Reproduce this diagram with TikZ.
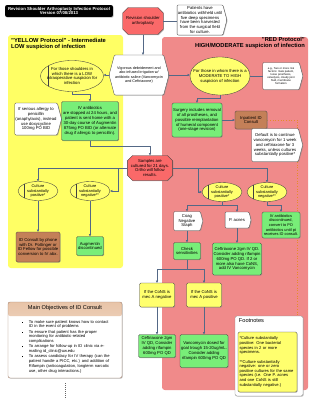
\documentclass[tikz,border=0pt]{standalone}
\usepackage{fontspec}
\setmainfont{Liberation Sans}
\usepackage{tikz}
\usetikzlibrary{shapes.geometric, shapes.misc, shapes.symbols, arrows.meta, positioning, backgrounds, shadows, calc}
\definecolor{zoneyellow}{RGB}{255,255,100}
\definecolor{zonered}{RGB}{240,138,138}
\definecolor{prepred}{RGB}{250,105,105}
\definecolor{actgreen}{RGB}{120,238,120}
\definecolor{condyellow}{RGB}{255,255,110}
\definecolor{consultbrown}{RGB}{196,128,88}
\definecolor{linkslate}{RGB}{84,104,134}
\definecolor{objpeach}{RGB}{232,196,168}
\definecolor{objedge}{RGB}{165,130,110}
\definecolor{dotorange}{RGB}{230,140,40}
\newenvironment{objlist}{%
  \begin{list}{\rule[0.6pt]{1.4pt}{1.4pt}}{%
    \setlength{\leftmargin}{0.5cm}\setlength{\labelwidth}{0.2cm}%
    \setlength{\labelsep}{0.3cm}\setlength{\itemsep}{0.6pt}%
    \setlength{\parsep}{0pt}\setlength{\topsep}{0pt}\setlength{\partopsep}{0pt}}}%
  {\end{list}}

\begin{document}
\begin{tikzpicture}[x=0.05cm, y=-0.05cm,
  font=\fontsize{6pt}{7pt}\selectfont,
  sdw/.style={drop shadow={shadow xshift=1pt, shadow yshift=-1pt, fill=black!45, opacity=0.6}},
  act/.style={rectangle, rounded corners=2pt, draw=black!75, fill=actgreen,
    line width=0.5pt, align=center, inner sep=1pt, sdw},
  consult/.style={act, fill=consultbrown},
  cond/.style={act, fill=condyellow},
  note/.style={signal, signal to=east, signal pointer angle=150, rounded corners=1.5pt,
    draw=black!70, fill=white, line width=0.5pt, align=center, inner sep=1pt, sdw},
  prep/.style={chamfered rectangle, chamfered rectangle xsep=4pt, draw=black!75,
    fill=prepred, line width=0.5pt, align=center, inner sep=1pt, sdw},
  susp/.style={ellipse, draw=black!75, fill=condyellow, line width=0.5pt,
    align=center, inner xsep=-10pt, inner ysep=-3pt},
  stored/.style={susp, path picture={\draw[black!75, line width=0.5pt]
    ([xshift=#1]path picture bounding box.north west) --
    ([xshift=#1]path picture bounding box.south west);}},
  stored/.default=0.33cm,
  culture/.style={stored, minimum width=2cm, minimum height=0.95cm,
    font=\fontsize{5.6pt}{6.3pt}\selectfont},
  zonehead/.style={font=\fontsize{8.2pt}{9pt}\selectfont\bfseries, inner sep=0pt},
  arr/.style={-{Triangle[length=3.2pt, width=3.2pt]}, line width=0.6pt, draw=linkslate},
  link/.style={line width=0.6pt, draw=linkslate}
]
% Page and protocol zones
\path[use as bounding box] (0,0) rectangle (313,400);
\begin{scope}[on background layer]
  \fill[white] (0,0) rectangle (313,400);
  \fill[zoneyellow, rounded corners=4pt] (8,35) rectangle (123,268);
  \fill[zonered, rounded corners=4pt] (162,37) rectangle (308,390);
\end{scope}
\node[rectangle, rounded corners=3pt, fill=black, text=white, align=center, sdw,
  font=\fontsize{6.1pt}{6.6pt}\selectfont\bfseries,
  minimum width=5.4cm, minimum height=0.6cm, inner sep=0pt]
  at (59,11) (title) {Revision Shoulder Arthroplasty Infection Protocol\\Version 07/08/2013};
\node[zonehead, anchor=north west, align=left]
  at (11,38) (lowHead) {"YELLOW Protocol" - Intermediate\\LOW suspicion of infection};
\node[zonehead, anchor=north east, align=right]
  at (305,37) (highHead) {"RED Protocol"\\HIGH/MODERATE suspicion of infection};
% Surgery and the split by suspicion
\node[prep, minimum width=2cm, minimum height=1.35cm]
  at (143,21) (revision) {Revision shoulder\\arthroplasty};
\node[note, minimum width=2.3cm, minimum height=1.5cm]
  at (200,20) (withhold) {Patients have\\antibiotics withheld until\\five deep specimens\\have been harvested\\from the surgical field\\for culture.};
\node[note, signal to=east and west, minimum width=2.4cm, minimum height=2cm,
  font=\fontsize{5.3pt}{6.6pt}\selectfont]
  at (139,75) (vigor) {Vigorous debridement and\\abx-infused irrigation w/\\antibiotic saline (Vancomycin\\and Ceftriaxone)};
\node[stored=0.4cm, minimum width=3.15cm, minimum height=1.55cm]
  at (72,76) (lowE) {For those shoulders in\\which there is a LOW\\intraoperative suspicion for\\infection};
\node[susp, minimum width=3cm, minimum height=1.9cm]
  at (220,76) (highE) {For those in whom there is a\\MODERATE TO HIGH\\suspicion of infection};
\node[note, minimum width=2cm, minimum height=1.35cm, font=\fontsize{3.9pt}{4.5pt}\selectfont]
  at (281,76) (risk) {e.g., Two or more risk\\factors: male patient,\\loose prosthesis,\\osteolysis, cloudy joint\\fluid, membrane\\formation};
% Yellow protocol
\node[note, minimum width=2.15cm, minimum height=1.6cm]
  at (36,119) (allergy) {If serious allergy to\\penicillin\\(anaphylaxis), instead\\use doxycycline\\100mg PO BID};
\node[act, minimum width=2.85cm, minimum height=1.95cm]
  at (90,121) (ivStop) {IV antibiotics\\are stopped at 24 hours, and\\patient is sent home with a\\30-day course of Augmentin\\875mg PO BID (or alternate\\drug if allergic to penicillin).};
\node[prep, minimum width=2cm, minimum height=1.25cm]
  at (150,168) (samples) {Samples are\\cultured for 21 days.\\Ortho will follow\\results.};
\node[culture] at (38,191) (posY) {Culture\\substantially\\positive*};
\node[culture] at (90,191) (negY) {Culture\\substantially\\negative**};
\node[consult, minimum width=2.2cm, minimum height=1.5cm]
  at (38,247) (idPhone) {ID Consult by phone\\with Dr. Pottinger or\\ID Fellow for possible\\conversion to IV abx.};
\node[act, minimum width=1.35cm, minimum height=0.95cm]
  at (90,246) (augStop) {Augmentin\\discontinued};
% Red protocol
\node[act, minimum width=2.5cm, minimum height=1.7cm]
  at (197,120) (surgery) {Surgery includes removal\\of all prostheses, and\\possible reimplantation\\of humeral component\\(one-stage revision)};
\node[consult, minimum width=1.6cm, minimum height=0.9cm]
  at (251,120) (inpatID) {Inpatient ID\\Consult};
\node[note, minimum width=2.55cm, minimum height=1.65cm]
  at (275,145) (dflt) {Default is to continue\\vancomycin for 1 week\\and ceftriaxone for 3\\weeks, unless cultures\\substantially positive*};
\node[culture] at (222,192) (posR) {Culture\\substantially\\positive*};
\node[culture] at (267,192) (negR) {Culture\\substantially\\negative**};
\node[note, minimum width=1.45cm, minimum height=0.95cm]
  at (187,221) (coag) {Coag\\Negative\\Staph};
\node[note, minimum width=1.3cm, minimum height=0.8cm]
  at (237,220) (pacnes) {P. acnes};
\node[act, minimum width=1.9cm, minimum height=1.3cm, font=\fontsize{5.6pt}{6.6pt}\selectfont]
  at (281,225) (ivConv) {IV antibiotics\\discontinued,\\convert to PO\\antibiotics until pt\\receives ID consult.};
\node[act, minimum width=1.35cm, minimum height=0.85cm]
  at (187,251) (checkSens) {Check\\sensitivities};
\node[act, minimum width=2.45cm, minimum height=1.6cm]
  at (237,259) (ceftri) {Ceftriaxone 2gm IV QD.\\Consider adding rifampin\\600mg PO QD. If 2 or\\more also have CoNS,\\add IV Vancomycin};
\node[cond, minimum width=1.75cm, minimum height=1.2cm]
  at (157,295) (mecNeg) {If the CoNS is\\mec A negative};
\node[cond, minimum width=1.75cm, minimum height=1.2cm]
  at (204,295) (mecPos) {If the CoNS is\\mec A positive};
\node[act, minimum width=1.85cm, minimum height=1.15cm]
  at (157,346) (ceftriB) {Ceftriaxone 2gm\\IV QD, Consider\\adding rifampin\\600mg PO QD};
\node[act, minimum width=2.4cm, minimum height=1.65cm]
  at (204,351) (vanco) {Vancomycin dosed for\\goal trough 15-20ug/mL.\\Consider adding\\rifampin 600mg PO QD};
% Objectives panel
\node[rectangle, rounded corners=3pt, draw=objedge, fill=white, line width=0.6pt,
  minimum width=5.7cm, minimum height=3.8cm, sdw,
  path picture={\shade[top color=objpeach, bottom color=objpeach!30]
    (path picture bounding box.north west) rectangle ([yshift=-0.7cm]path picture bounding box.north east);}]
  at (65,340) (mainObj) {};
\node[font=\fontsize{8pt}{9pt}\selectfont, inner sep=0pt, below=0.17cm of mainObj.north]
  (objHead) {Main Objectives of ID Consult};
\node[font=\fontsize{5.8pt}{6.8pt}\selectfont, text width=4.7cm, align=left,
  anchor=north west, inner sep=0pt]
  at ([xshift=0.55cm, yshift=-0.82cm]mainObj.north west) (objList) {%
  \begin{objlist}
  \item To make sure patient knows how to contact\\ID in the event of problems
  \item To ensure that patient has the proper\\monitoring for antibiotic-related\\complications
  \item To arrange for follow-up in ID clinic via e-\\mailing id\_clinic@uw.edu
  \item To assess candidacy for IV therapy (can the\\patient handle a PICC, etc.) and addition of\\Rifampin (anticoagulation, longterm narcotic\\use, other drug interactions.)
  \end{objlist}};
\coordinate (pageEnd) at (65,400);
% Footnotes
\node[rectangle, rounded corners=3pt, draw=black!45, fill=white, line width=0.5pt,
  minimum width=3.4cm, minimum height=4cm, sdw]
  at (269,356) (footBox) {};
\node[font=\fontsize{8pt}{9pt}\selectfont, inner sep=0pt, anchor=north west]
  at ([xshift=0.2cm, yshift=-0.15cm]footBox.north west) (footHead) {Footnotes};
\node[cond, text width=2.8cm, align=left, minimum width=2.95cm, minimum height=3cm,
  font=\fontsize{5.8pt}{6.6pt}\selectfont]
  at (267.5,362) (footText) {*Culture substantially\\positive: One bacterial\\species in 2 or more\\specimens.\\[6.6pt]**Culture substantially\\negative: one or zero\\positive cultures for the same\\species (i.e. One P. acnes\\and one CoNS is still\\substantially negative.)};
% Connectors
\draw[arr] (revision.south) -- (revision.south |- vigor.north);
\draw[link] (revision.east) -- (revision.east -| withhold.west);
\draw[arr] (vigor.west) -- (vigor.west -| lowE.east);
\draw[arr] (vigor.east) -- (vigor.east -| highE.west);
\draw[link] (highE.east) -- (highE.east -| risk.west);
\draw[arr] (lowE.south) -- ++(0,3) -| (ivStop.north);
\draw[link] (allergy.east) -- (allergy.east -| ivStop.west);
\draw[arr] (ivStop.south) -- ++(0,6) -| (samples.north);
\draw[arr] (highE.south) -- ++(0,3) -| (surgery.north);
\draw[arr] (surgery.east) -- (inpatID.west);
\draw[arr] (samples.west) -| (posY.north);
\draw[arr] (samples.west) -- ++(-9,0) |- (negY.east);
\draw[arr] (samples.east) -| (negR.north);
\draw[arr] (samples.east) -- ++(25,0) |- (posR.west);
\draw[arr] (posY.south) -- (idPhone.north);
\draw[arr] (negY.south) -- (augStop.north);
\draw[arr] (posR.south) -- ++(0,4) -| (coag.north);
\draw[arr] (posR.south) -- ++(0,4) -| (pacnes.north);
\draw[arr] (negR.south) -- ++(0,4) -| (ivConv.north);
\draw[arr] (coag.south) -- (coag.south |- checkSens.north);
\draw[arr] (pacnes.south) -- (pacnes.south |- ceftri.north);
\draw[arr] (checkSens.south) -- ++(0,10) -| (mecNeg.north);
\draw[arr] (checkSens.south) -- ++(0,10) -| (mecPos.north);
\draw[arr] (mecNeg.south) -- (ceftriB.north);
\draw[arr] (mecPos.south) -- (vanco.north);
\draw[dash pattern=on 0.7pt off 2.2pt, line width=0.7pt, black!60]
  ([yshift=-0.25cm]mainObj.south) -- (pageEnd);
\begin{scope}[on background layer]
  \draw[dotorange, dash pattern=on 0.8pt off 3pt, line width=0.8pt]
    (inpatID.east) -| ([xshift=-0.3cm]footBox.north east);
\end{scope}
\end{tikzpicture}
\end{document}
